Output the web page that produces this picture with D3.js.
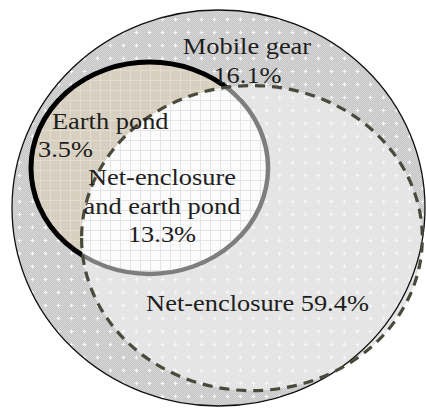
<!DOCTYPE html>
<html>
<head>
<meta charset="utf-8">
<script src="https://cdn.jsdelivr.net/npm/d3@7"></script>
<style>
  html, body { margin: 0; padding: 0; background: #fff; }
  svg { display: block; }
  text { font-family: "Liberation Serif", "DejaVu Serif", serif; fill: #1e1e1e; }
</style>
</head>
<body>
<div id="chart"></div>
<script>
// shares of farms by gear type (%)
const regionNames = ["Mobile gear", "Earth pond", "Net-enclosure and earth pond", "Net-enclosure"];
const regionShares = [16.1, 3.5, 13.3, 59.4];
const setNames = ["Mobile gear", "Net-enclosure", "Earth pond"];

let width = 426;
let height = 409;

// unit space: the outer set is the unit circle
let x = d3.scaleLinear().domain([-1, 1]).range([12, 425]);
let y = d3.scaleLinear().domain([-1, 1]).range([10, 406]);

// set layout in unit space
let layout = {
  "Mobile gear":   {cx: 0,      cy: 0,      rx: 1,     ry: 1},
  "Net-enclosure": {cx: 0.162,  cy: 0.152,  rx: 0.825, ry: 0.77},
  "Earth pond":    {cx: -0.334, cy: -0.202, rx: 0.574, ry: 0.535}
};

function ell(name) {
  const g = layout[name];
  return {
    cx: x(g.cx), cy: y(g.cy),
    rx: x(g.cx + g.rx) - x(g.cx),
    ry: y(g.cy + g.ry) - y(g.cy)
  };
}

function ellPath(e) {
  return `M${e.cx - e.rx},${e.cy}a${e.rx},${e.ry} 0 1,0 ${2*e.rx},0a${e.rx},${e.ry} 0 1,0 ${-2*e.rx},0Z`;
}

const svg = d3.select("#chart").append("svg")
  .attr("width", width)
  .attr("height", height);

const defs = svg.append("defs");

function grain(id, a, b) {
  const p = defs.append("pattern").attr("id", id)
    .attr("patternUnits", "userSpaceOnUse").attr("width", 2).attr("height", 2);
  p.append("rect").attr("width", 2).attr("height", 2).attr("fill", a);
  p.append("rect").attr("width", 1).attr("height", 1).attr("fill", b);
  p.append("rect").attr("x", 1).attr("y", 1).attr("width", 1).attr("height", 1).attr("fill", b);
}
function plus(id, op) {
  const p = defs.append("pattern").attr("id", id)
    .attr("patternUnits", "userSpaceOnUse").attr("width", 13).attr("height", 13);
  p.append("path").attr("d", "M4.5,6.5h4M6.5,4.5v4")
    .attr("stroke", "#fff").attr("stroke-width", 1.2).attr("opacity", op);
}
function grid(id, bg, line) {
  const p = defs.append("pattern").attr("id", id)
    .attr("patternUnits", "userSpaceOnUse").attr("width", 10).attr("height", 10);
  p.append("rect").attr("width", 10).attr("height", 10).attr("fill", bg);
  p.append("path").attr("d", "M0,0.5h10M0.5,0v10").attr("stroke", line).attr("stroke-width", 1);
}
grain("g-mobile", "#c6c6c6", "#d6d6d6");
plus("p-mobile", 0.85);
grain("g-net", "#e0e0e0", "#eaeaea");
plus("p-net", 0.7);
grid("grid-both", "#fcfcfc", "#e4e4e4");
grid("grid-pond", "#d7cfc0", "#e3dccf");

const outer = ell(setNames[0]);
const net = ell(setNames[1]);
const pond = ell(setNames[2]);

// clips: inside / outside the net-enclosure set
defs.append("clipPath").attr("id", "in-net")
  .append("path").attr("d", ellPath(net));
defs.append("clipPath").attr("id", "out-net")
  .append("path").attr("clip-rule", "evenodd")
  .attr("d", `M0,0H${width}V${height}H0Z` + ellPath(net));

// mobile gear
svg.append("path").attr("d", ellPath(outer)).attr("fill", "url(#g-mobile)");
svg.append("path").attr("d", ellPath(outer)).attr("fill", "url(#p-mobile)");

// net-enclosure
svg.append("path").attr("d", ellPath(net)).attr("fill", "url(#g-net)");
svg.append("path").attr("d", ellPath(net)).attr("fill", "url(#p-net)");

// earth pond only, and overlap
svg.append("path").attr("d", ellPath(pond)).attr("fill", "url(#grid-pond)")
  .attr("clip-path", "url(#out-net)");
svg.append("path").attr("d", ellPath(pond)).attr("fill", "url(#grid-both)")
  .attr("clip-path", "url(#in-net)");

// outlines
svg.append("path").attr("d", ellPath(outer))
  .attr("fill", "none").attr("stroke", "#111").attr("stroke-width", 1.3);
svg.append("path").attr("d", ellPath(pond))
  .attr("fill", "none").attr("stroke", "#000").attr("stroke-width", 5)
  .attr("clip-path", "url(#out-net)");
svg.append("path").attr("d", ellPath(pond))
  .attr("fill", "none").attr("stroke", "#7e7e7e").attr("stroke-width", 4.5)
  .attr("clip-path", "url(#in-net)");
svg.append("path").attr("d", ellPath(net))
  .attr("fill", "none").attr("stroke", "#4a4a3c").attr("stroke-width", 3.2)
  .attr("stroke-dasharray", "10,7");

// labels
const fmt = v => v.toFixed(1) + "%";
const labels = [
  {lines: [regionNames[0]], px: 247, py: 54, anchor: "middle"},
  {lines: [fmt(regionShares[0])], px: 247.5, py: 83, anchor: "middle"},
  {lines: [regionNames[1]], px: 52, py: 129, anchor: "start"},
  {lines: [fmt(regionShares[1])], px: 38, py: 157, anchor: "start"},
  {lines: ["Net-enclosure", "and earth pond", fmt(regionShares[2])], px: 162, py: 185, anchor: "middle"},
  {lines: [regionNames[3] + " " + fmt(regionShares[3])], px: 257.5, py: 311, anchor: "middle"}
];

labels.forEach(l => {
  l.lines.forEach((s, i) => {
    svg.append("text")
      .attr("text-anchor", l.anchor)
      .attr("font-size", 24)
      .attr("transform", `translate(${l.px},${l.py + i * 28.5}) scale(1.1,1)`)
      .text(s);
  });
});
</script>
</body>
</html>
